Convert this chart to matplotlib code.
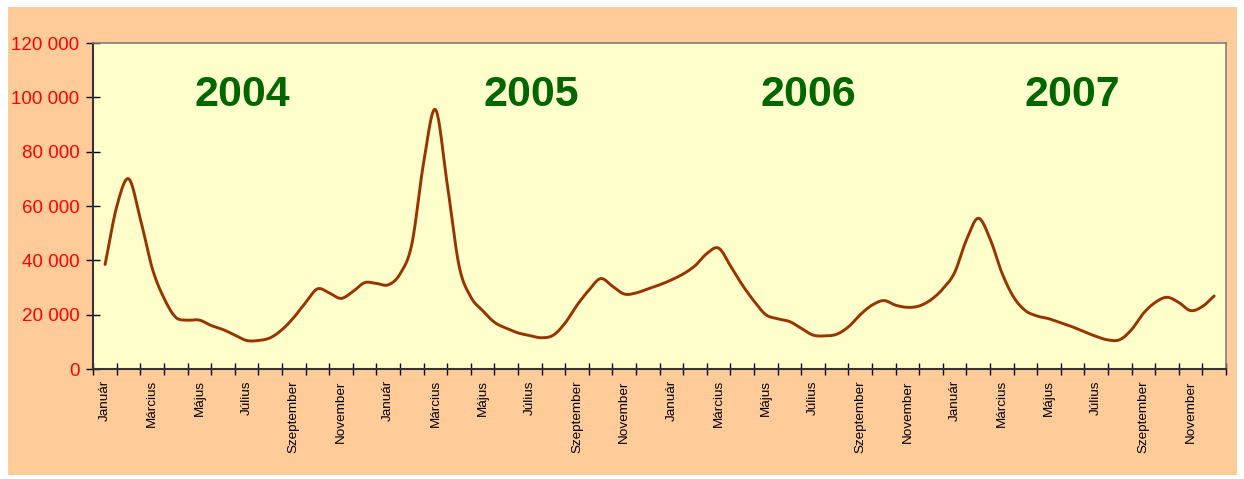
import numpy as np
import matplotlib.pyplot as plt
from matplotlib.patches import Rectangle
from matplotlib.ticker import FuncFormatter

# Half-month readings (thousands), one list per year
y2004 = [38.5, 60, 70, 55, 37, 26, 19, 18, 18, 16, 14.5, 12.5,
         10.5, 10.5, 11.5, 14.5, 19, 24.5, 29.5, 28, 26, 28.5, 31.8, 31.5]
y2005 = [31, 35, 46, 76, 95.5, 68, 38, 26.5, 21.5, 17.2, 15, 13.3,
         12.3, 11.5, 12.5, 17, 23.5, 29, 33.3, 30.5, 27.6, 28, 29.5, 31]
y2006 = [32.8, 35, 38, 42.5, 44.5, 38, 31, 25, 20, 18.5, 17.5, 15,
         12.5, 12.2, 12.8, 15.5, 20, 23.5, 25.2, 23.5, 22.7, 23.2, 25.5, 29.5]
y2007 = [35.5, 47.5, 55.5, 48, 35.5, 26.5, 21.5, 19.5, 18.5, 17, 15.5, 13.7,
         12, 10.7, 10.8, 14.5, 20.5, 24.5, 26.4, 24.5, 21.5, 23, 26.9]

years = ['2004', '2005', '2006', '2007']
year_label_pos = [6.3, 18.55, 30.3, 41.5]
month_labels = ['Január', 'Március', 'Május', 'Július', 'Szeptember', 'November']

values = np.array(y2004 + y2005 + y2006 + y2007) * 1000
x = 0.5 + 0.5 * np.arange(len(values))


def catmull_rom(px, py, n=20):
    # smooth curve through the points (like Excel's smoothed line)
    px = np.concatenate([[2 * px[0] - px[1]], px, [2 * px[-1] - px[-2]]])
    py = np.concatenate([[2 * py[0] - py[1]], py, [2 * py[-1] - py[-2]]])
    xs, ys = [], []
    t = np.linspace(0, 1, n, endpoint=False)
    for i in range(1, len(px) - 2):
        for arr, out in ((px, xs), (py, ys)):
            p0, p1, p2, p3 = arr[i - 1], arr[i], arr[i + 1], arr[i + 2]
            out.extend(0.5 * (2 * p1 + (-p0 + p2) * t
                              + (2 * p0 - 5 * p1 + 4 * p2 - p3) * t ** 2
                              + (-p0 + 3 * p1 - 3 * p2 + p3) * t ** 3))
    xs.append(px[-2])
    ys.append(py[-2])
    return np.array(xs), np.array(ys)


plt.rcParams['font.family'] = ['Liberation Sans', 'DejaVu Sans']

fig = plt.figure(figsize=(12.44, 4.79), dpi=100)
fig.patch.set_facecolor('white')
bg = Rectangle((8 / 1244, 1 - 475 / 479), 1229 / 1244, 468 / 479,
               transform=fig.transFigure, facecolor='#FFCC99',
               edgecolor='none', zorder=-10)
fig.add_artist(bg)

ax = fig.add_axes([0.075, 0.2296, 0.9105, 0.6806])
ax.set_facecolor('#FFFFCC')

sx, sy = catmull_rom(x, values)
ax.plot(sx, sy, color='#993300', linewidth=2.1, solid_capstyle='round')

for label, pos in zip(years, year_label_pos):
    ax.text(pos, 101000, label, color='#006600', fontsize=31,
            fontweight='bold', ha='center', va='center')

ax.set_xlim(0, 48)
ax.set_ylim(0, 120000)

ax.set_yticks(np.arange(0, 120001, 20000))
ax.yaxis.set_major_formatter(FuncFormatter(lambda v, p: f'{int(v):,}'.replace(',', ' ')))
ax.tick_params(axis='y', direction='inout', length=10, width=1, colors='black',
               labelcolor='red', labelsize=13.5, pad=5)

ax.set_xticks(np.arange(0, 49))
ax.set_xticklabels([])
ax.set_xticks(np.arange(0.5, 48, 2), minor=True)
ax.set_xticklabels(month_labels * 4, minor=True, rotation=90, fontsize=9.7)
ax.tick_params(axis='x', which='major', direction='inout', length=8, width=1)
ax.tick_params(axis='x', which='minor', length=0, pad=8)

for side in ['left', 'bottom']:
    ax.spines[side].set_color('#333333')
    ax.spines[side].set_linewidth(1.5)
for side in ['top', 'right']:
    ax.spines[side].set_color('#808080')
    ax.spines[side].set_linewidth(1.2)

fig.savefig('out.png', dpi=100, facecolor=fig.get_facecolor())
